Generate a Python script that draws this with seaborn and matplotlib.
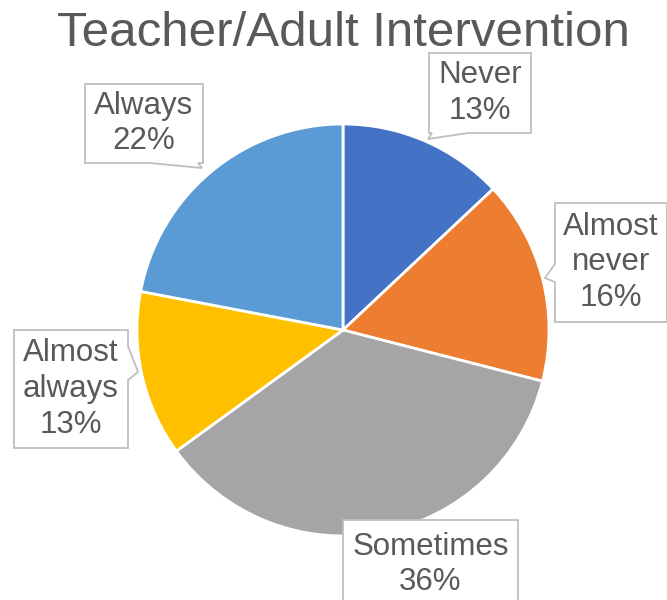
import matplotlib
matplotlib.use('Agg')

import matplotlib.pyplot as plt
from matplotlib.patches import Polygon
import seaborn as sns

categories = ['Never', 'Almost never', 'Sometimes', 'Almost always', 'Always']
shares = [13, 16, 36, 13, 22]
label_text = ['Never\n13%', 'Almost\nnever\n16%', 'Sometimes\n36%', 'Almost\nalways\n13%', 'Always\n22%']
colors = ['#4472C4', '#ED7D31', '#A5A5A5', '#FFC000', '#5B9BD5']

W, H = 667, 600
GRAY = '#595959'

sns.set_theme(style='white')
plt.rcParams['font.family'] = ['Liberation Sans', 'DejaVu Sans']

fig = plt.figure(figsize=(W / 100, H / 100), dpi=100)
ax = fig.add_axes([0, 0, 1, 1])


def Y(y):
    # pixel rows (top-down) -> data y (bottom-up)
    return H - y


ax.pie(shares, colors=colors, startangle=90, counterclock=False,
       center=(343, Y(330)), radius=206,
       wedgeprops=dict(edgecolor='white', linewidth=2))
ax.set_xlim(0, W)
ax.set_ylim(0, H)
ax.set_aspect('auto')
ax.axis('off')

ax.text(343, Y(33), 'Teacher/Adult Intervention', ha='center', va='center',
        fontsize=35.5, color=GRAY)

# callout boxes: (x0, y0, x1, y1), side with tail, tail base (a, b), tail tip
callouts = [
    ((429, 53, 531, 133), 'bottom', (432, 468), (428, 139)),
    ((555, 203, 667, 322), 'left', (264, 282), (545, 278)),
    ((343, 520, 518, 605), None, None, None),
    ((14, 330, 128, 448), 'right', (346, 380), (138, 372)),
    ((85, 84, 203, 163), 'bottom', (150, 198), (202, 168)),
]


def outline(box, side, base, tip):
    x0, y0, x1, y1 = box
    pts = [(x0, y0), (x1, y0)]
    if side == 'right':
        pts += [(x1, base[0]), tip, (x1, base[1])]
    pts += [(x1, y1)]
    if side == 'bottom':
        pts += [(base[1], y1), tip, (base[0], y1)]
    pts += [(x0, y1)]
    if side == 'left':
        pts += [(x0, base[1]), tip, (x0, base[0])]
    return [(x, Y(y)) for x, y in pts]


for txt, (box, side, base, tip) in zip(label_text, callouts):
    ax.add_patch(Polygon(outline(box, side, base, tip), closed=True,
                         facecolor='white', edgecolor='#BFBFBF', linewidth=1.3,
                         zorder=3, clip_on=False))
    cx = (box[0] + box[2]) / 2
    cy = (box[1] + box[3]) / 2
    if box[3] > 600:
        cy += 2
    ax.text(cx, Y(cy), txt, ha='center', va='center', fontsize=22.5,
            color=GRAY, linespacing=1.25, zorder=4)

plt.savefig('out.png', dpi=100)
